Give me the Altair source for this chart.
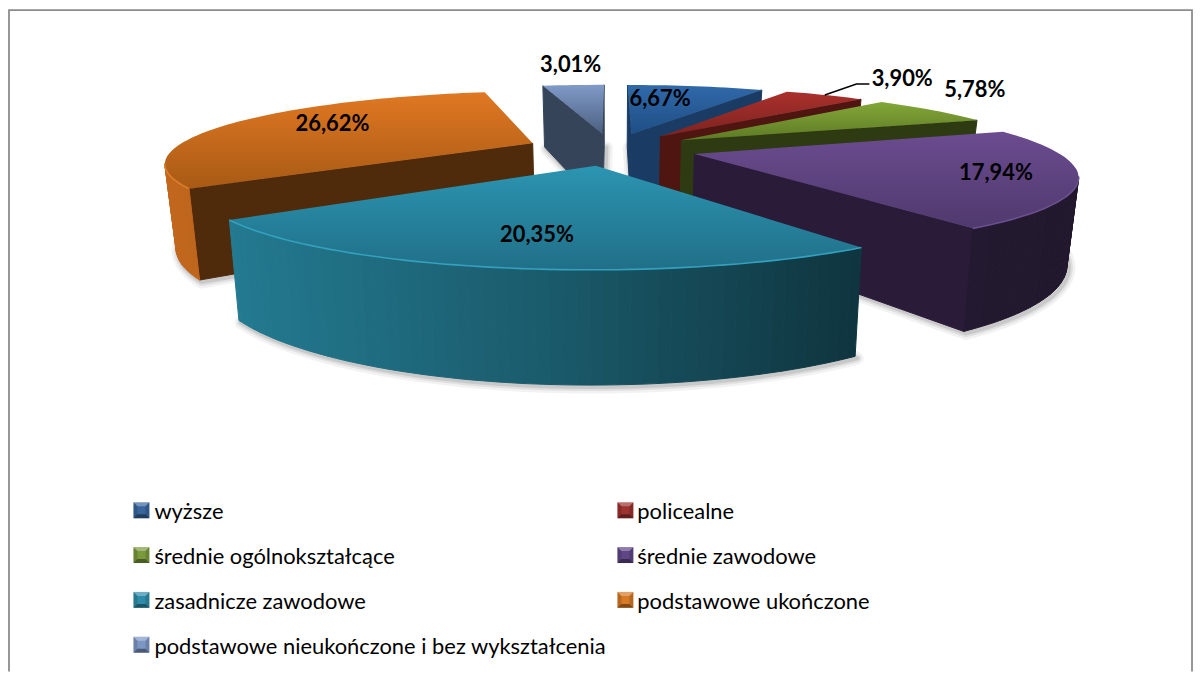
import math
import altair as alt
import pandas as pd

# ---- chart values ------------------------------------------------------
CATEGORIES = ["wyższe", "policealne", "średnie ogólnokształcące", "średnie zawodowe",
              "zasadnicze zawodowe", "podstawowe ukończone",
              "podstawowe nieukończone i bez wykształcenia"]
VALUES = [6.67, 3.90, 5.78, 17.94, 20.35, 26.62, 3.01]
LABELS = ["6,67%", "3,90%", "5,78%", "17,94%", "20,35%", "26,62%", "3,01%"]

# ---- styles ------------------------------------------------------------
LEGEND_COL = ["#38659c", "#9e322e", "#7a9a3c", "#5f4787", "#2f8ca8", "#d67a26", "#7d97c5"]
TOP_HI = ["#3069aa", "#aa302c", "#83a738", "#6b4c90", "#2b95b1", "#e07822", "#809bc9"]
TOP_LO = ["#1f4e85", "#7d2320", "#5d7a25", "#4f396d", "#216f88", "#a85a15", "#4c6080"]
CUT = ["#1a3c64", "#4f1510", "#2e3a12", "#2a1b39", "#153f4c", "#4f2a0b", "#354459"]
RIM = ["#3570b0", "#ae3632", "#88ac40", "#6c4f90", "#33a0be", "#dc7e2a", "#86a1ce"]
BASE = [(47, 102, 165), (165, 47, 43), (125, 159, 51), (103, 74, 138),
        (43, 147, 174), (221, 118, 34), (125, 151, 197)]
DRAW_ORDER = [6, 0, 1, 2, 5, 3, 4]
NUDGE = [(-13, -4), (137, -31), (136, -31), (79, 5), (-9, 16), (-16, -6), (-13, -37)]

# ---- projection of the tilted, exploded pie ----------------------------
CX, CY, SX, SY, WALL, EXPLODE, SHRINK = 614, 148, 360, 68, 80, 0.239, 0.975
NEAR, FAR = 4.0, 4.0
FONT = "Lato"


def project(X, Y, bottom=False):
    w = 1 - Y / (NEAR if Y >= 0 else FAR)
    x = CX + SX * X / w
    y = CY + SY * Y / w
    if bottom:
        x = CX + (x - CX) * SHRINK
        y += WALL / w
    return x, y


def direction(deg):
    a = math.radians(deg)
    return math.sin(a), -math.cos(a)


def shade(x):
    pts = [(165, .88), (545, .62), (855, .37), (1100, .33)]
    if x <= pts[0][0]:
        return pts[0][1]
    for (a, fa), (b, fb) in zip(pts, pts[1:]):
        if x <= b:
            return fa + (fb - fa) * (x - a) / (b - a)
    return pts[-1][1]


total = sum(VALUES)
angles = []
acc = 0.0
for v in VALUES:
    angles.append((acc, acc + v / total * 360))
    acc += v / total * 360

slices = []
for i, (a, b) in enumerate(angles):
    dx, dy = direction((a + b) / 2)
    apex = (EXPLODE * dx, EXPLODE * dy)
    n = max(6, int((b - a) / 1.5))
    arc = [(apex[0] + direction(a + (b - a) * k / n)[0],
            apex[1] + direction(a + (b - a) * k / n)[1]) for k in range(n + 1)]
    slices.append(dict(i=i, a=a, b=b, apex=apex, arc=arc))

X_SCALE = alt.Scale(domain=[8, 1200], nice=False, zero=False)
Y_SCALE = alt.Scale(domain=[673, 8], nice=False, zero=False)


def xy():
    return dict(x=alt.X("x:Q", scale=X_SCALE, axis=None),
                y=alt.Y("y:Q", scale=Y_SCALE, axis=None),
                order=alt.Order("seq:Q"),
                detail="poly:N")


def rows(poly, pts, color=None):
    out = []
    for s, (x, y) in enumerate(pts):
        out.append(dict(poly=poly, seq=s, x=round(x, 1), y=round(y, 1), col=color))
    return out


def hex_col(c):
    return "#%02x%02x%02x" % tuple(int(max(0, min(255, v))) for v in c)


layers = []

# soft shadow below the lower outline of every slice
shadow = []
for s in slices:
    pts = [project(*s["apex"], bottom=True)] + [project(*p, bottom=True) for p in s["arc"]]
    pts.append(pts[0])
    shadow += rows(f"s{s['i']}", [(x + 2, y + 2) for x, y in pts])
for width, op in ((13, .05), (8, .07), (4, .1)):
    layers.append(alt.Chart(pd.DataFrame(shadow)).mark_line(
        color="#000000", strokeWidth=width, opacity=op, strokeJoin="round").encode(**xy()))

for idx in DRAW_ORDER:
    s = slices[idx]
    ax, ay = s["apex"]
    wall = []
    # radial cut faces seen from the camera
    for deg, end, sign in ((s["a"], s["arc"][0], -90), (s["b"], s["arc"][-1], 90)):
        nx, ny = direction(deg + sign)
        if nx * (0 - ax) + ny * (NEAR - ay) > 0:
            q = [project(ax, ay), project(*end), project(*end, bottom=True),
                 project(ax, ay, bottom=True), project(ax, ay)]
            wall += rows(f"c{idx}{sign}", q, CUT[idx])
    # outer rounded face, cut into vertical strips for its left-to-right shading
    arc = s["arc"]
    rim = []
    for k in range(len(arc) - 1):
        deg = s["a"] + (s["b"] - s["a"]) * (k + .5) / (len(arc) - 1)
        nx, ny = direction(deg)
        mx, my = (arc[k][0] + arc[k + 1][0]) / 2, (arc[k][1] + arc[k + 1][1]) / 2
        if nx * (0 - mx) + ny * (NEAR - my) > 0:
            p0, p1 = project(*arc[k]), project(*arc[k + 1])
            q = [p0, p1, project(*arc[k + 1], bottom=True), project(*arc[k], bottom=True), p0]
            f = shade((p0[0] + p1[0]) / 2)
            wall += rows(f"o{idx}_{k:03d}", q, hex_col([v * f for v in BASE[idx]]))
            if not rim:
                rim.append(p0)
            rim.append(p1)
    if wall:
        layers.append(alt.Chart(pd.DataFrame(wall)).mark_line(strokeWidth=1).encode(
            fill=alt.Fill("col:N", scale=None),
            stroke=alt.Stroke("col:N", scale=None), **xy()))
    # top face with its vertical gradient
    top = [project(ax, ay)] + [project(*p) for p in arc] + [project(ax, ay)]
    grad = alt.LinearGradient(gradient="linear", x1=0, x2=0, y1=0, y2=1,
                              stops=[alt.GradientStop(offset=0, color=TOP_HI[idx]),
                                     alt.GradientStop(offset=1, color=TOP_LO[idx])])
    layers.append(alt.Chart(pd.DataFrame(rows(f"t{idx}", top))).mark_line(
        fill=grad, strokeOpacity=0).encode(**xy()))
    # light rim along the visible outer edge
    if rim:
        layers.append(alt.Chart(pd.DataFrame(rows(f"r{idx}", rim))).mark_line(
            color=RIM[idx], strokeWidth=1.6).encode(**xy()))

# data labels
text_rows = []
for s in slices:
    i = s["i"]
    d = direction((s["a"] + s["b"]) / 2)
    x, y = project(s["apex"][0] + .6 * d[0], s["apex"][1] + .6 * d[1])
    text_rows.append(dict(x=x + NUDGE[i][0], y=y + NUDGE[i][1], label=LABELS[i]))
text_df = pd.DataFrame(text_rows)

# leader line of the narrow red slice
red = slices[1]
d = direction((red["a"] + red["b"]) / 2)
start = project(red["apex"][0] + d[0], red["apex"][1] + d[1])
lab = text_rows[1]
leader = [start, (lab["x"] - 46, lab["y"] + 5), (lab["x"] - 33, lab["y"] + 5)]
layers.append(alt.Chart(pd.DataFrame(rows("lead", leader))).mark_line(
    color="#000000", strokeWidth=1.5).encode(**xy()))

layers.append(alt.Chart(text_df).mark_text(
    font=FONT, fontWeight="bold", fontSize=22, color="#000000", baseline="middle", align="center"
).encode(x=alt.X("x:Q", scale=X_SCALE, axis=None), y=alt.Y("y:Q", scale=Y_SCALE, axis=None),
         text="label:N"))

# frame
frame = [(9, 673), (9, 8.8), (1197, 8.8), (1197, 673)]
layers.append(alt.Chart(pd.DataFrame(rows("frame", frame))).mark_line(
    color="#8c8c8c", strokeWidth=1.8).encode(**xy()))

# legend: native labels; its keys are drawn below with their bevel
legend_df = pd.DataFrame({"name": CATEGORIES, "x": [600] * 7, "y": [400] * 7})
layers.append(alt.Chart(legend_df).mark_square(opacity=0).encode(
    x=alt.X("x:Q", scale=X_SCALE, axis=None), y=alt.Y("y:Q", scale=Y_SCALE, axis=None),
    color=alt.Color("name:N", scale=alt.Scale(domain=CATEGORIES, range=LEGEND_COL),
                    legend=alt.Legend(title=None, orient="none", legendX=124, legendY=493,
                                      columns=2, direction="horizontal",
                                      symbolType="square", symbolSize=256,
                                      symbolOpacity=0, symbolStrokeWidth=0,
                                      labelFont=FONT, labelFontSize=22, labelColor="#000000",
                                      labelOffset=1, labelLimit=600, rowPadding=21,
                                      columnPadding=8, padding=0, clipHeight=24))))

ROW0, ROW_STEP, COLS, KEY = 511, 45, (134, 620), 16
keys = []
bevel = {"hi": [], "lo": [], "side": []}
for i in range(len(CATEGORIES)):
    x0 = COLS[i % 2]
    y0 = ROW0 + ROW_STEP * (i // 2) - KEY / 2
    x1, y1 = x0 + KEY, y0 + KEY
    t = 4
    keys += rows(f"k{i}", [(x0, y0), (x1, y0), (x1, y1), (x0, y1), (x0, y0)], LEGEND_COL[i])
    bevel["hi"] += rows(f"h{i}", [(x0, y0), (x1, y0), (x1 - t, y0 + t), (x0 + t, y0 + t), (x0, y0)])
    bevel["lo"] += rows(f"l{i}", [(x0, y1), (x1, y1), (x1 - t, y1 - t), (x0 + t, y1 - t), (x0, y1)])
    bevel["side"] += rows(f"a{i}", [(x0, y0), (x0 + t, y0 + t), (x0 + t, y1 - t), (x0, y1), (x0, y0)])
    bevel["side"] += rows(f"b{i}", [(x1, y0), (x1 - t, y0 + t), (x1 - t, y1 - t), (x1, y1), (x1, y0)])
layers.append(alt.Chart(pd.DataFrame(keys)).mark_line(strokeOpacity=0).encode(
    fill=alt.Fill("col:N", scale=None), **xy()))
for key, col, op in (("hi", "#ffffff", .3), ("lo", "#000000", .4), ("side", "#000000", .14)):
    layers.append(alt.Chart(pd.DataFrame(bevel[key])).mark_line(
        fill=col, fillOpacity=op, strokeOpacity=0).encode(**xy()))

chart = alt.layer(*layers).properties(
    width=1192, height=665, padding=0,
    autosize=alt.AutoSizeParams(type="none")
).configure_view(stroke=None)

chart.save("out.html", embed_options={"renderer": "svg", "actions": False})
